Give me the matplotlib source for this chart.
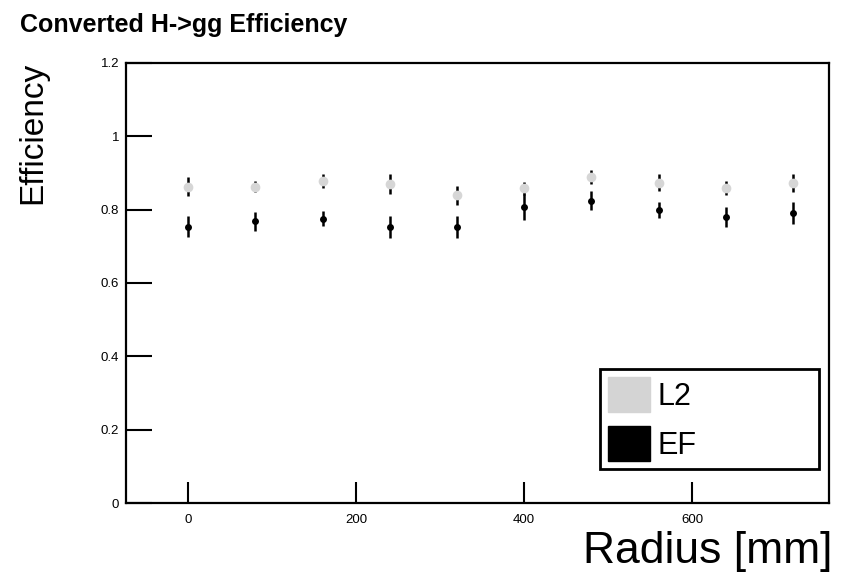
import matplotlib.pyplot as plt
from matplotlib.patches import Patch

# radius bins [mm]
radius = [0, 80, 160, 240, 320, 400, 480, 560, 640, 720]

# L2 trigger efficiency and uncertainty
l2_eff = [0.863, 0.862, 0.878, 0.870, 0.839, 0.858, 0.889, 0.873, 0.859, 0.872]
l2_err = [0.026, 0.015, 0.018, 0.026, 0.025, 0.018, 0.020, 0.023, 0.018, 0.025]

# EF trigger efficiency and uncertainty
ef_eff = [0.754, 0.768, 0.775, 0.753, 0.753, 0.808, 0.824, 0.798, 0.780, 0.791]
ef_err = [0.029, 0.025, 0.020, 0.029, 0.029, 0.035, 0.026, 0.022, 0.026, 0.031]

plt.rcParams['font.family'] = ['Liberation Sans', 'DejaVu Sans']

fig = plt.figure(figsize=(8.48, 5.83), dpi=100)
ax = fig.add_axes([0.1486, 0.1372, 0.8290, 0.7548])

ax.errorbar(radius, l2_eff, yerr=l2_err, fmt='o', color='#d6d6d6', ms=7,
            mew=0, ecolor='black', elinewidth=1.8, capsize=3.5, capthick=2, zorder=3)
ax.errorbar(radius, ef_eff, yerr=ef_err, fmt='o', color='black', ms=5,
            mew=0, ecolor='black', elinewidth=1.8, capsize=3.5, capthick=2, zorder=2)

ax.set_xlim(-74, 763)
ax.set_ylim(0, 1.2)
ax.set_xticks([0, 200, 400, 600])
ax.set_yticks([0, 0.2, 0.4, 0.6, 0.8, 1.0, 1.2])
ax.set_yticklabels(['0', '0.2', '0.4', '0.6', '0.8', '1', '1.2'])

ax.tick_params(axis='y', direction='in', length=19, width=1.5, labelsize=9.5, pad=5)
ax.tick_params(axis='x', direction='in', length=15, width=1.5, labelsize=9.5, pad=8)
for s in ax.spines.values():
    s.set_linewidth(1.6)

# axis titles sit at the far ends of the axes
fig.text(832 / 848, 1 - 563 / 583, 'Radius [mm]', fontsize=32,
         ha='right', va='baseline')
fig.text(33 / 848, 1 - 62 / 583, 'Efficiency', fontsize=24, rotation=90,
         ha='center', va='top')

fig.text(20 / 848, 1 - 25 / 583, 'Converted H->gg Efficiency', fontsize=18,
         fontweight='bold', ha='left', va='center')

handles = [Patch(facecolor='#d4d4d4', edgecolor='#d4d4d4', label='L2'),
           Patch(facecolor='black', edgecolor='black', label='EF')]
leg = ax.legend(handles=handles, loc='lower left',
                bbox_to_anchor=(600 / 848, 1 - 469 / 583, 219 / 848, 116 / 583),
                bbox_transform=fig.transFigure, mode='expand', fontsize=22,
                fancybox=False, framealpha=1, edgecolor='black',
                handlelength=1.37, handleheight=1.4, handletextpad=0.26,
                labelspacing=0.45, borderpad=0.26, borderaxespad=0)
leg.get_frame().set_linewidth(2)

fig.savefig('out.png', dpi=100)
